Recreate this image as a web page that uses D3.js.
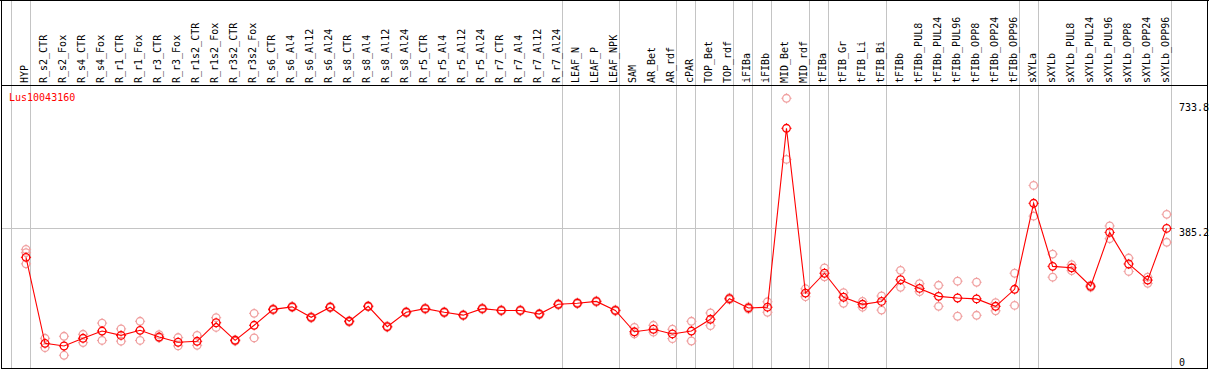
<!DOCTYPE html>
<html><head><meta charset="utf-8">
<script src="https://cdn.jsdelivr.net/npm/d3@7"></script>
<style>html,body{margin:0;padding:0;background:#fff;}svg{display:block;}text{font-family:"DejaVu Sans Mono",monospace;font-size:10px;}</style>
</head><body>
<svg id="c" width="1209" height="370"></svg>
<script>
const categories = ["HYP","R_s2_CTR","R_s2_Fox","R_s4_CTR","R_s4_Fox","R_r1_CTR","R_r1_Fox","R_r3_CTR","R_r3_Fox","R_r1s2_CTR","R_r1s2_Fox","R_r3s2_CTR","R_r3s2_Fox","R_s6_CTR","R_s6_Al4","R_s6_Al12","R_s6_Al24","R_s8_CTR","R_s8_Al4","R_s8_Al12","R_s8_Al24","R_r5_CTR","R_r5_Al4","R_r5_Al12","R_r5_Al24","R_r7_CTR","R_r7_Al4","R_r7_Al12","R_r7_Al24","LEAF_N","LEAF_P","LEAF_NPK","SAM","AR_Bet","AR_rdf","cPAR","TOP_Bet","TOP_rdf","iFIBa","iFIBb","MID_Bet","MID_rdf","tFIBa","tFIB_Gr","tFIB_Li","tFIB_Bi","tFIBb","tFIBb_PUL8","tFIBb_PUL24","tFIBb_PUL96","tFIBb_OPP8","tFIBb_OPP24","tFIBb_OPP96","sXYLa","sXYLb","sXYLb_PUL8","sXYLb_PUL24","sXYLb_PUL96","sXYLb_OPP8","sXYLb_OPP24","sXYLb_OPP96"];
const meanValues = [304,66,58.7,80,100,88,102,83.5,69,71.7,123,74.4,116,160,167,138,166,127,168.5,112,152,162,152,144,162,157,157,147,174,177,182,157,98,105,92,100,132.5,189.5,164,166,661,205,260,193.5,174,182,242,218,196,191.5,189,168.5,215.5,453.5,279,275,224,373,285.6,241,384];
const repA = [326,80,85.5,91,122,106,127,90,82,88,137,76,149,162,169,140,168,129,170,114,154,164,154,146,164,159,159,149,176,179,184,159,110,116,105,127,150,192,167,181,744,217,274.5,206,182,197,268,231,226.6,238,235,178.5,260,503,313,283.6,227,390.7,302,249,423];
const repB = [317,54,33,68,74,72,74,81,59,60.6,110,72,81,158,165,136,164,125,167,110,150,160,150,142,160,155,155,145,172,175,180,155,92,97,79,72.5,115,187,161,152,575,195,250,177,166,158,221,209,168.5,141,143.6,156,171,418,249,267,221,355.6,265,232,345.6];
const repC = [286,null,null,null,null,null,null,null,null,null,null,null,null,null,null,null,null,null,null,null,null,null,null,null,null,null,null,null,null,null,null,null,null,null,null,null,null,null,null,null,null,null,null,null,null,null,null,null,null,null,null,null,null,null,null,null,null,null,null,null,null];
const groupEnds = ["", "HYP","R_r7_Al24","LEAF_NPK","AR_rdf","cPAR","TOP_rdf","iFIBa","iFIBb","MID_rdf","tFIBa","tFIB_Bi","tFIBb_OPP96","sXYLa","sXYLb_OPP96"];
const yTicks = [0, 385.2, 733.8];
const seriesName = "Lus10043160";

const svg = d3.select("#c");
svg.append("rect").attr("width",1209).attr("height",370).attr("fill","#fff");

const x = d3.scalePoint().domain(categories).range([26, 1166.7]);
const y = d3.scaleLinear().domain([0, 733.8]).range([367.2, 102]);
const step = x.step();
const gx = name => name === "" ? x(categories[0]) - step : x(name);

svg.append("g").selectAll("line").data(groupEnds).join("line")
  .attr("x1", d => Math.round(gx(d)+4)+0.5).attr("x2", d => Math.round(gx(d)+4)+0.5)
  .attr("y1", 0).attr("y2", 369).attr("stroke", "#c4c4c4").attr("stroke-width", 1);

svg.append("line").attr("x1", 2).attr("x2", 1175)
  .attr("y1", Math.round(y(yTicks[1]))+0.5).attr("y2", Math.round(y(yTicks[1]))+0.5)
  .attr("stroke", "#c4c4c4").attr("stroke-width", 1);

svg.append("line").attr("x1",0).attr("x2",1209).attr("y1",0.5).attr("y2",0.5).attr("stroke","#000");
svg.append("line").attr("x1",1).attr("x2",1208).attr("y1",85.5).attr("y2",85.5).attr("stroke","#000");
svg.append("line").attr("x1",1.5).attr("x2",1.5).attr("y1",0).attr("y2",369).attr("stroke","#000");
svg.append("line").attr("x1",1207.5).attr("x2",1207.5).attr("y1",0).attr("y2",369).attr("stroke","#000");
svg.append("line").attr("x1",1).attr("x2",1208).attr("y1",368.5).attr("y2",368.5).attr("stroke","#000");

svg.append("g").selectAll("text").data(categories).join("text")
  .attr("transform", d => `translate(${x(d)+2},83) rotate(-90)`)
  .attr("text-anchor","start").attr("fill","#000").text(d => d);

svg.append("g").selectAll("text").data(yTicks).join("text")
  .attr("x", 1179).attr("y", d => Math.min(y(d)+8.5, 365.5))
  .attr("fill","#000").text(d => d === 0 ? "0" : d3.format(".1f")(d));

svg.append("text").attr("x", 9).attr("y", 100.5).attr("fill", "#ff0000").text(seriesName);

function marker(g, cx, cy, color) {
  const r = 3.8;
  g.append("circle").attr("cx", cx).attr("cy", cy).attr("r", r)
    .attr("fill","none").attr("stroke", color).attr("stroke-width", 1.3);
  g.append("path").attr("d",
    `M${cx},${cy-r-1.3}V${cy-r}M${cx},${cy+r}V${cy+r+1.3}M${cx-r-1.3},${cy}H${cx-r}M${cx+r},${cy}H${cx+r+1.3}`)
    .attr("stroke", color).attr("stroke-width", 1);
}

const reps = svg.append("g");
[repA, repB, repC].forEach(arr => {
  arr.forEach((v, i) => { if (v != null) marker(reps, x(categories[i]), y(v), "#f0a0a0"); });
});

svg.append("path").datum(meanValues)
  .attr("d", d3.line().x((d,i) => x(categories[i])).y(d => y(d)))
  .attr("fill","none").attr("stroke","#ff0000").attr("stroke-width",1.1);

const means = svg.append("g");
meanValues.forEach((v, i) => marker(means, x(categories[i]), y(v), "#ff0000"));
</script>
</body></html>
